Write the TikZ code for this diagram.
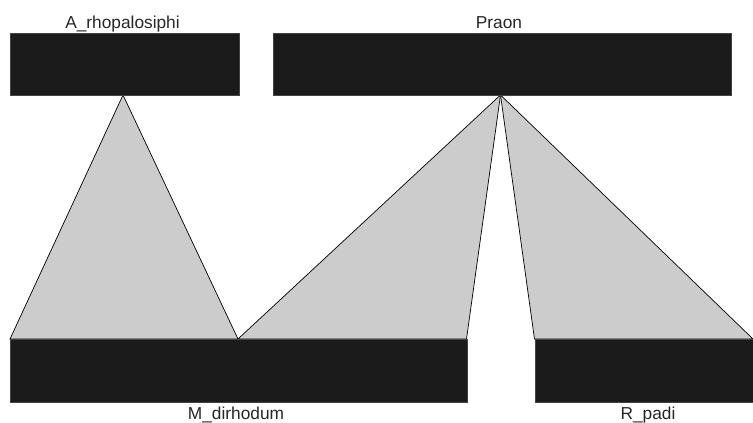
\documentclass[tikz,border=0pt]{standalone}
\usepackage{fontspec}
\setmainfont{Liberation Sans}
\definecolor{barfill}{HTML}{1B1B1B}
\definecolor{barline}{HTML}{444444}
\definecolor{linkfill}{HTML}{CCCCCC}
\begin{document}
\begin{tikzpicture}[x=1pt,y=-1pt,
  bar/.style={fill=barfill,draw=barline,line width=0.8pt},
  link/.style={fill=linkfill,draw=black,line width=0.7pt,line join=miter},
  lbl/.style={font=\fontsize{17.3}{17.3}\selectfont,text=black!85,inner sep=0pt,anchor=base}]
\useasboundingbox (0,0) rectangle (753,423);
% interaction links
\coordinate (aTop) at (123,95);
\coordinate (pTop) at (500.5,95);
\coordinate (mL) at (10,339);
\coordinate (mM) at (238,339);
\coordinate (mR) at (466.5,339);
\coordinate (rL) at (534.5,339);
\coordinate (rR) at (753,339);
\draw[link] (aTop) -- (mL) -- (mM) -- cycle;
\draw[link] (pTop) -- (mM) -- (mR) -- cycle;
\draw[link] (pTop) -- (rL) -- (rR) -- cycle;
% higher level
\node[bar,minimum width=229pt,minimum height=62.5pt,inner sep=0pt,anchor=north west] (A) at (10,32.5) {};
\node[bar,minimum width=458pt,minimum height=62.5pt,inner sep=0pt,anchor=north west] (P) at (272.5,32.5) {};
% lower level
\node[bar,minimum width=456.5pt,minimum height=62.5pt,inner sep=0pt,anchor=north west] (M) at (10,339) {};
\node[bar,minimum width=220pt,minimum height=62.5pt,inner sep=0pt,anchor=north west] (R) at (534.5,339) {};
% labels
\node[lbl] (tA) at (122.5,28.3) {A\_rhopalosiphi};
\node[lbl] (tP) at (499,28.3) {Praon};
\node[lbl] (tM) at (236,419.7) {M\_dirhodum};
\node[lbl] (tR) at (648,419.7) {R\_padi};
\end{tikzpicture}
\end{document}
